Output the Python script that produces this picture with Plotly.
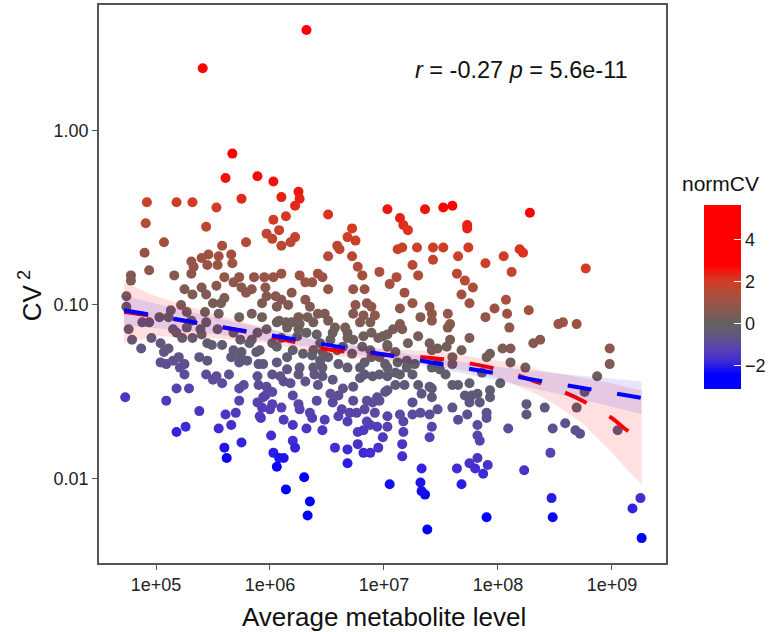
import plotly.graph_objects as go

# ---------------- data (log10 units) ----------------
# top / outlying points
lx_a = [6.32, 5.41, 5.67, 5.61, 5.89, 6.03, 6.10, 6.25, 6.26, 5.75, 4.92, 5.18, 5.32, 5.53]
ly_a = [0.58, 0.36, -0.13, -0.27, -0.26, -0.29, -0.38, -0.35, -0.39, -0.39, -0.41, -0.41, -0.41, -0.44]
c_a = [5.4, 4.4, 3.0, 2.6, 2.7, 2.6, 2.4, 2.5, 2.4, 2.3, 1.9, 2.0, 2.1, 2.0]

# upper-left cloud
lx_b = [4.91, 5.44, 6.03, 6.14, 5.97, 6.08, 6.02, 6.10, 5.79, 5.07, 4.90, 5.58, 5.46, 5.40, 5.55, 5.66, 5.67,
        5.54, 5.31, 5.33, 5.45, 5.60, 5.73, 5.86, 5.95, 6.03, 6.10, 4.94, 4.78, 4.78, 5.16, 5.31, 5.53, 5.40,
        5.25, 5.32, 5.44, 5.60, 5.57, 5.75, 5.79, 5.84, 5.96, 5.97, 6.05, 6.10, 5.93, 6.06, 4.74, 4.74, 5.22,
        5.13, 5.11, 5.03, 4.88, 4.94, 5.31, 5.44, 5.55, 5.73, 5.84, 5.93, 6.08, 6.14, 5.68, 5.27, 5.50, 5.43]
ly_b = [-0.53, -0.55, -0.51, -0.49, -0.59, -0.57, -0.62, -0.66, -0.64, -0.64, -0.70, -0.66, -0.71, -0.73, -0.72,
        -0.71, -0.76, -0.77, -0.75, -0.78, -0.77, -0.84, -0.84, -0.84, -0.84, -0.84, -0.82, -0.80, -0.83, -0.86,
        -0.83, -0.82, -0.89, -0.90, -0.91, -0.94, -0.94, -0.96, -0.99, -0.90, -0.93, -0.91, -0.90, -0.95, -0.95,
        -0.97, -0.99, -1.01, -0.95, -1.01, -1.00, -1.03, -1.07, -1.07, -1.10, -1.10, -1.09, -1.10, -1.05, -1.07,
        -1.05, -1.07, -1.09, -1.10, -0.87, -1.04, -0.99, -1.04]
c_b = [1.5, 1.7, 2.0, 2.1, 1.7, 1.8, 1.7, 1.6, 1.5, 1.3, 1.0, 1.4, 1.2, 1.1, 1.2, 1.3, 1.1, 1.0, 1.0, 0.9, 1.0,
       0.9, 0.9, 0.9, 1.0, 1.0, 1.1, 0.8, 0.6, 0.5, 0.7, 0.8, 0.7, 0.6, 0.5, 0.5, 0.5, 0.5, 0.4, 0.7, 0.7, 0.7,
       0.8, 0.6, 0.7, 0.6, 0.5, 0.5, 0.2, 0.1, 0.3, 0.1, 0.0, 0.0, -0.2, -0.2, 0.0, 0.0, 0.2, 0.2, 0.3, 0.3, 0.3,
       0.3, 0.8, 0.2, 0.4, 0.2]

# upper-middle cloud
lx_c = [6.22, 6.51, 7.03, 7.14, 7.17, 7.21, 7.36, 7.52, 7.60, 7.73, 7.73, 6.72, 6.68, 6.75, 6.59, 6.61, 6.51,
        6.72, 6.77, 6.81, 6.96, 7.12, 7.16, 7.29, 7.43, 7.52, 7.74, 7.65, 7.43, 7.25, 7.30, 7.11, 7.05, 7.18,
        7.25, 7.14, 7.32, 7.14, 6.83, 6.85, 6.75, 6.73, 6.82, 6.89, 6.92, 6.88, 6.79, 6.73, 6.51, 6.42, 6.26,
        6.31, 6.37, 6.46, 6.19, 6.16, 6.31, 6.35, 6.42, 6.48, 6.33, 6.25, 6.19, 6.57, 6.66, 7.64, 7.71, 7.78,
        7.68, 7.75, 7.40, 7.42, 7.56, 7.58, 7.42, 6.22, 6.18]
ly_c = [-0.43, -0.48, -0.45, -0.50, -0.54, -0.57, -0.45, -0.44, -0.43, -0.54, -0.56, -0.56, -0.61, -0.63, -0.66,
        -0.68, -0.72, -0.72, -0.78, -0.83, -0.81, -0.68, -0.67, -0.67, -0.67, -0.67, -0.67, -0.72, -0.74, -0.77,
        -0.83, -0.84, -0.88, -0.93, -0.99, -1.02, -1.07, -1.11, -0.91, -0.99, -1.00, -1.05, -1.06, -1.01, -1.06,
        -1.10, -1.10, -0.91, -0.91, -0.82, -0.83, -0.87, -0.87, -0.84, -0.93, -1.00, -0.97, -1.01, -1.05, -1.05,
        -1.07, -1.07, -1.10, -1.13, -1.13, -0.82, -0.86, -0.90, -0.94, -0.99, -1.01, -1.05, -1.05, -1.11, -1.09,
        -0.61, -0.64]
c_c = [2.3, 2.2, 2.5, 2.4, 2.3, 2.2, 2.6, 2.7, 2.8, 2.5, 2.4, 2.1, 1.9, 1.9, 1.7, 1.7, 1.5, 1.6, 1.4, 1.3, 1.4,
       1.8, 1.9, 1.9, 2.0, 2.0, 2.1, 1.9, 1.8, 1.6, 1.4, 1.4, 1.2, 1.1, 1.0, 0.8, 0.7, 0.6, 1.0, 0.8, 0.8, 0.6,
       0.6, 0.8, 0.7, 0.5, 0.5, 1.0, 0.9, 1.2, 1.1, 1.0, 1.0, 1.1, 0.8, 0.6, 0.7, 0.6, 0.5, 0.5, 0.4, 0.4, 0.3,
       0.3, 0.4, 1.6, 1.5, 1.4, 1.2, 1.1, 0.9, 0.9, 0.9, 0.7, 0.7, 1.8, 1.7]

# upper-right cloud
lx_d = [8.28, 8.19, 8.22, 8.05, 7.89, 8.12, 8.77, 8.07, 7.97, 7.89, 8.08, 8.27, 8.53, 8.57, 8.69, 8.10]
ly_d = [-0.47, -0.68, -0.70, -0.72, -0.76, -0.81, -0.79, -0.97, -1.02, -1.07, -1.05, -1.03, -1.11, -1.10, -1.11,
        -1.13]
c_d = [2.9, 2.2, 2.2, 2.0, 1.9, 1.8, 2.1, 1.3, 1.1, 0.9, 1.1, 1.2, 1.0, 1.1, 1.1, 0.8]

# lower-left cloud
lx_e = [4.76, 4.79, 4.87, 4.96, 5.04, 5.07, 5.11, 5.04, 5.09, 5.20, 5.25, 5.25, 5.18, 5.29, 5.38, 5.44, 5.53,
        5.58, 5.64, 5.66, 5.73, 5.73, 5.77, 5.73, 5.61, 5.70, 5.66, 5.55, 5.60, 5.62, 5.75, 5.18, 5.26, 4.73,
        5.09, 5.38, 5.49, 5.32, 5.23, 5.40, 5.18, 5.90, 5.96, 6.02, 6.02, 6.10, 5.93, 5.92, 6.01, 6.03, 6.08,
        6.06, 6.12, 6.14, 6.12, 6.12, 5.90, 6.02, 5.88, 5.75, 5.84, 6.02, 6.10, 5.15, 5.21, 5.39, 5.27, 5.15,
        5.54, 5.68, 5.74, 5.82, 5.68, 5.74, 5.80, 5.91, 5.94, 5.89, 5.97, 5.94, 5.89, 6.00, 5.91, 5.50, 5.45,
        5.58, 5.45, 5.97, 5.89, 6.06, 6.06]
ly_e = [-1.14, -1.20, -1.25, -1.19, -1.22, -1.27, -1.25, -1.33, -1.34, -1.30, -1.34, -1.40, -1.48, -1.48, -1.61,
        -1.40, -1.41, -1.45, -1.40, -1.30, -1.33, -1.48, -1.46, -1.55, -1.63, -1.62, -1.69, -1.71, -1.82, -1.88,
        -1.79, -1.73, -1.70, -1.53, -1.55, -1.30, -1.23, -1.19, -1.19, -1.17, -1.16, -1.46, -1.52, -1.50, -1.57,
        -1.59, -1.59, -1.65, -1.75, -1.85, -1.88, -1.93, -1.88, -2.06, -1.66, -1.44, -1.34, -1.40, -1.27, -1.27,
        -1.20, -1.22, -1.19, -1.32, -1.36, -1.14, -1.13, -1.14, -1.14, -1.16, -1.20, -1.22, -1.26, -1.29, -1.32,
        -1.26, -1.34, -1.41, -1.47, -1.53, -1.56, -1.60, -1.64, -1.43, -1.32, -1.23, -1.22, -1.14, -1.16, -1.24,
        -1.10]
c_e = [-0.3, -0.5, -0.6, -0.4, -0.5, -0.6, -0.5, -0.8, -0.8, -0.7, -0.8, -0.9, -1.2, -1.2, -1.5, -0.9, -0.9,
       -1.0, -0.8, -0.5, -0.6, -1.0, -0.9, -1.2, -1.5, -1.4, -1.7, -1.8, -2.1, -2.3, -1.9, -1.9, -1.8, -1.5,
       -1.4, -0.6, -0.3, -0.3, -0.3, -0.2, -0.2, -0.9, -1.0, -1.0, -1.2, -1.2, -1.3, -1.5, -1.7, -2.0, -2.1,
       -2.3, -2.1, -2.6, -1.4, -0.8, -0.6, -0.7, -0.3, -0.4, -0.1, -0.1, 0.0, -0.7, -0.8, -0.1, -0.1, -0.2,
       -0.1, -0.1, -0.2, -0.2, -0.4, -0.4, -0.5, -0.3, -0.5, -0.8, -0.9, -1.1, -1.2, -1.3, -1.4, -0.9, -0.6,
       -0.3, -0.3, 0.1, 0.0, -0.2, 0.2]

# lower-middle cloud (part 1)
lx_f = [6.20, 6.22, 6.30, 6.35, 6.33, 6.20, 6.26, 6.35, 6.32, 6.41, 6.48, 6.46, 6.57, 6.68, 6.68, 6.77, 6.82,
        6.88, 6.95, 6.99, 7.03, 7.03, 6.94, 6.82, 6.77, 6.70, 6.63, 6.55, 6.73, 6.85, 6.94, 7.03, 7.05, 7.03,
        6.90, 6.79, 6.73, 6.64, 6.55, 6.53, 6.46, 6.38, 6.44, 6.26, 6.18, 6.15, 6.09, 6.06, 6.15, 6.20, 6.29,
        6.38, 6.44, 6.53, 6.59, 6.64, 6.73, 6.82, 6.88, 6.96, 7.03, 6.99, 7.08, 6.51, 6.38, 6.26, 6.15, 6.24,
        6.32, 6.41, 6.55, 6.68]
ly_f = [-1.78, -1.82, -1.99, -2.13, -2.21, -1.69, -1.60, -1.62, -1.71, -1.55, -1.66, -1.72, -1.82, -1.91, -1.83,
        -1.80, -1.85, -1.85, -1.82, -1.76, -1.70, -1.64, -1.70, -1.72, -1.73, -1.62, -1.60, -1.56, -1.55, -1.55,
        -1.53, -1.49, -2.03, -1.41, -1.41, -1.42, -1.47, -1.48, -1.43, -1.51, -1.41, -1.36, -1.32, -1.36, -1.45,
        -1.37, -1.41, -1.33, -1.30, -1.26, -1.28, -1.26, -1.22, -1.20, -1.26, -1.24, -1.20, -1.18, -1.26, -1.30,
        -1.24, -1.18, -1.14, -1.09, -1.10, -1.11, -1.13, -1.18, -1.16, -1.17, -1.16, -1.16]
c_f = [-1.7, -1.9, -2.4, -2.8, -3.0, -1.5, -1.2, -1.2, -1.5, -1.0, -1.3, -1.5, -1.7, -2.0, -1.8, -1.6, -1.8,
       -1.7, -1.6, -1.4, -1.2, -1.1, -1.3, -1.4, -1.4, -1.1, -1.1, -1.0, -0.9, -0.8, -0.8, -0.6, -2.2, -0.4,
       -0.4, -0.5, -0.7, -0.7, -0.6, -0.8, -0.6, -0.4, -0.3, -0.5, -0.8, -0.6, -0.7, -0.5, -0.3, -0.2, -0.2,
       -0.1, 0.0, 0.1, -0.1, 0.0, 0.2, 0.2, 0.0, -0.1, 0.1, 0.3, 0.4, 0.4, 0.3, 0.3, 0.2, 0.0, 0.1, 0.1, 0.2, 0.3]

# lower-middle cloud (part 2)
lx_g = [6.20, 6.25, 6.37, 6.60, 6.68, 6.76, 6.83, 6.85, 6.90, 6.92, 6.88, 7.17, 7.25, 7.32, 7.17, 7.16, 7.16,
        7.42, 7.40, 7.33, 7.32, 7.36, 7.33, 7.64, 7.68, 7.75, 7.82, 7.47, 7.60, 7.65, 7.71, 7.75, 7.65, 7.42,
        7.33, 7.30, 7.42, 7.25, 7.14, 7.10, 7.01, 6.83, 6.60, 6.42, 6.39, 6.31, 6.25, 6.46, 6.60, 6.68, 6.79,
        6.83, 7.01, 7.10, 7.20, 7.27, 7.42, 7.49, 7.60, 7.77, 7.73, 7.82, 7.82, 6.25, 6.68, 6.89, 6.95, 7.21,
        7.40, 7.42, 7.47, 7.60, 7.56, 7.75, 7.68, 6.37, 6.46, 6.51, 6.72, 6.81, 6.89, 7.10, 7.12, 7.20]
ly_g = [-1.52, -1.57, -1.65, -1.64, -1.67, -1.62, -1.60, -1.67, -1.56, -1.62, -1.69, -1.67, -1.63, -1.62, -1.73,
        -1.80, -1.87, -1.70, -1.76, -1.94, -2.02, -2.09, -2.07, -1.94, -2.03, -1.91, -1.88, -1.60, -1.59, -1.66,
        -1.52, -1.45, -1.46, -1.53, -1.51, -1.46, -1.48, -1.40, -1.40, -1.46, -1.50, -1.40, -1.52, -1.46, -1.40,
        -1.44, -1.40, -1.36, -1.34, -1.36, -1.36, -1.33, -1.34, -1.39, -1.36, -1.34, -1.36, -1.37, -1.34, -1.52,
        -1.63, -1.69, -1.75, -1.14, -1.19, -1.16, -1.19, -1.22, -1.22, -1.26, -1.25, -1.30, -1.13, -1.19, -1.26,
        -1.29, -1.27, -1.30, -1.28, -1.24, -1.30, -1.27, -1.33, -1.32]
c_g = [-1.0, -1.1, -1.3, -1.2, -1.3, -1.1, -1.0, -1.2, -0.9, -1.0, -1.3, -1.1, -1.0, -0.9, -1.3, -1.5, -1.7,
       -1.1, -1.3, -1.9, -2.1, -2.3, -2.2, -1.7, -2.0, -1.6, -1.5, -0.8, -0.7, -0.9, -0.5, -0.2, -0.3, -0.6,
       -0.6, -0.4, -0.4, -0.3, -0.3, -0.5, -0.6, -0.4, -0.8, -0.7, -0.6, -0.7, -0.6, -0.4, -0.3, -0.3, -0.3,
       -0.2, -0.2, -0.3, -0.2, -0.1, -0.1, -0.1, 0.0, -0.4, -0.8, -0.9, -1.1, 0.2, 0.2, 0.3, 0.3, 0.3, 0.3,
       0.2, 0.3, 0.2, 0.6, 0.5, 0.3, -0.2, -0.1, -0.2, -0.1, 0.1, -0.1, 0.1, -0.1, 0.0]

# lower-right cloud
lx_h = [7.03, 7.03, 7.30, 7.55, 7.58, 7.47, 7.54, 7.40, 7.03, 6.96, 7.18, 6.96, 7.14, 7.25, 7.40, 7.75, 7.84,
        7.93, 7.93, 7.90, 7.90, 8.09, 7.84, 7.80, 7.87, 7.91, 7.38, 7.90, 8.23, 8.25, 8.25, 8.24, 8.11, 8.11,
        7.90, 7.93, 7.60, 8.31, 8.37, 8.41, 8.48, 8.46, 8.47, 8.48, 8.59, 8.68, 8.72, 8.69, 8.76, 8.87, 8.98,
        8.98, 9.05, 9.25, 9.18, 9.26, 8.04, 7.86, 8.02, 7.82, 7.16]
ly_h = [-1.17, -1.23, -1.18, -1.24, -1.20, -1.33, -1.40, -1.47, -1.36, -1.40, -1.46, -1.55, -1.63, -1.56, -1.63,
        -1.56, -1.56, -1.49, -1.53, -1.62, -1.65, -1.71, -1.78, -1.94, -1.97, -1.92, -2.29, -2.22, -1.95, -1.57,
        -1.63, -1.36, -1.33, -1.25, -1.30, -1.28, -1.46, -1.22, -1.20, -1.59, -1.71, -1.85, -2.11, -2.22, -1.68,
        -1.72, -1.74, -1.59, -1.50, -1.41, -1.25, -1.34, -1.72, -2.11, -2.17, -2.34, -1.25, -1.39, -1.45, -1.51,
        -1.14]
c_h = [0.3, 0.2, 0.4, 0.3, 0.4, 0.0, -0.2, -0.4, -0.2, -0.4, -0.5, -0.8, -1.0, -0.8, -0.9, -0.6, -0.6, -0.3,
       -0.4, -0.7, -0.8, -0.9, -1.2, -1.7, -1.8, -1.6, -2.9, -2.5, -1.6, -0.5, -0.6, 0.2, 0.2, 0.5, 0.2, 0.3,
       -0.3, 0.6, 0.7, -0.5, -0.8, -1.2, -2.0, -2.3, -0.7, -0.7, -0.8, -0.3, -0.1, 0.2, 0.8, 0.5, -0.6, -1.7,
       -1.9, -2.4, 0.5, 0.0, -0.2, -0.4, 0.5]

# fitted curves (log10 units)
lm_lx = [4.72, 5.0, 5.5, 6.0, 6.5, 7.0, 7.5, 8.0, 8.5, 9.0, 9.26]
lm_fit = [-1.030, -1.063, -1.118, -1.174, -1.229, -1.284, -1.339, -1.395, -1.450, -1.505, -1.534]
lm_hi = [-0.945, -0.993, -1.069, -1.139, -1.202, -1.259, -1.310, -1.355, -1.393, -1.425, -1.440]
lm_lo = [-1.115, -1.133, -1.167, -1.209, -1.256, -1.309, -1.368, -1.435, -1.507, -1.585, -1.628]

lo_lx = [4.72, 5.0, 5.5, 6.0, 6.5, 7.0, 7.5, 8.0, 8.33, 8.5, 8.74, 9.0, 9.11, 9.2, 9.26]
lo_fit = [-1.04, -1.065, -1.12, -1.18, -1.255, -1.285, -1.31, -1.37, -1.44, -1.48, -1.55, -1.65, -1.71, -1.75, -1.78]
lo_hi = [-0.87, -0.95, -1.05, -1.14, -1.22, -1.25, -1.27, -1.32, -1.37, -1.39, -1.42, -1.45, -1.47, -1.48, -1.49]
lo_lo = [-1.22, -1.18, -1.19, -1.22, -1.29, -1.32, -1.35, -1.42, -1.51, -1.57, -1.68, -1.85, -1.93, -1.99, -2.03]

x_tick_vals = [1e5, 1e6, 1e7, 1e8, 1e9]
x_tick_text = ["1e+05", "1e+06", "1e+07", "1e+08", "1e+09"]
y_tick_vals = [0.01, 0.1, 1.0]
y_tick_text = ["0.01", "0.10", "1.00"]
cb_tick_vals = [-2, 0, 2, 4]

# ---------------- assemble ----------------
lx = lx_a + lx_b + lx_c + lx_d + lx_e + lx_f + lx_g + lx_h
ly = ly_a + ly_b + ly_c + ly_d + ly_e + ly_f + ly_g + ly_h
normcv = c_a + c_b + c_c + c_d + c_e + c_f + c_g + c_h
n = min(len(lx), len(ly), len(normcv))
level = [10 ** v for v in lx[:n]]
cv2 = [10 ** v for v in ly[:n]]
normcv = normcv[:n]

def pw(vals):
    return [10 ** v for v in vals]

FONT = "Liberation Sans, Arial, sans-serif"
cmin, cmax = -3.1, 5.67

colorscale = [
    [0.000, "rgb(0,0,255)"],
    [0.080, "rgb(0,0,255)"],
    [0.148, "rgb(62,42,214)"],
    [0.217, "rgb(88,66,178)"],
    [0.285, "rgb(96,86,130)"],
    [0.353, "rgb(98,98,98)"],
    [0.433, "rgb(138,88,78)"],
    [0.513, "rgb(172,78,58)"],
    [0.593, "rgb(214,58,36)"],
    [0.673, "rgb(255,0,0)"],
    [1.000, "rgb(255,0,0)"],
]

fig = go.Figure()

fig.add_trace(go.Scatter(
    x=level, y=cv2, mode="markers",
    marker=dict(
        size=10, color=normcv, colorscale=colorscale, cmin=cmin, cmax=cmax,
        line=dict(width=0),
        showscale=True,
        colorbar=dict(
            x=1.067, xanchor="left", xref="paper",
            y=0.477, yanchor="middle",
            thickness=37, len=184, lenmode="pixels",
            outlinewidth=0, xpad=0, ypad=0,
            tickvals=cb_tick_vals,
            ticks="inside", ticklen=7, tickcolor="white", tickwidth=1,
            tickfont=dict(family=FONT, size=18, color="#1a1a1a"),
        ),
    ),
    showlegend=False, hoverinfo="skip",
))

def ribbon(xs, hi, lo, color):
    return go.Scatter(
        x=pw(xs) + pw(xs)[::-1], y=pw(hi) + pw(lo)[::-1],
        fill="toself", fillcolor=color, line=dict(width=0),
        mode="lines", showlegend=False, hoverinfo="skip",
    )

fig.add_trace(ribbon(lo_lx, lo_hi, lo_lo, "rgba(255,0,0,0.12)"))
fig.add_trace(go.Scatter(x=pw(lo_lx), y=pw(lo_fit), mode="lines",
                         line=dict(color="#FF0000", width=4, dash="24px,26px", shape="spline"),
                         showlegend=False, hoverinfo="skip"))
fig.add_trace(ribbon(lm_lx, lm_hi, lm_lo, "rgba(0,0,255,0.10)"))
fig.add_trace(go.Scatter(x=pw(lm_lx), y=pw(lm_fit), mode="lines",
                         line=dict(color="#0000FF", width=4, dash="24px,26px"),
                         showlegend=False, hoverinfo="skip"))

axis_common = dict(
    showgrid=False, zeroline=False,
    showline=True, mirror=True, linecolor="#555555", linewidth=1.5,
    ticks="outside", ticklen=5, tickcolor="#555555", tickwidth=1,
    tickfont=dict(family=FONT, size=18, color="#222222"),
)

fig.update_layout(
    width=771, height=632,
    margin=dict(l=99, r=105, t=5, b=69, autoexpand=False),
    paper_bgcolor="white", plot_bgcolor="white",
    font=dict(family=FONT),
    xaxis=dict(type="log", range=[4.5, 9.474], tickvals=x_tick_vals, ticktext=x_tick_text, **axis_common),
    yaxis=dict(type="log", range=[-2.483, 0.724], tickvals=y_tick_vals, ticktext=y_tick_text, **axis_common),
    annotations=[
        dict(text="<i>r</i> = -0.27 <i>p</i> = 5.6e-11", x=0.746, y=0.8835, xref="paper", yref="paper",
             showarrow=False, font=dict(family=FONT, size=23.5, color="#111111"),
             xanchor="center", yanchor="middle"),
        dict(text="Average metabolite level", x=0.503, y=-0.0968, xref="paper", yref="paper",
             showarrow=False, font=dict(family=FONT, size=26, color="#111111"),
             xanchor="center", yanchor="middle"),
        dict(text="CV<sup> 2</sup>", x=-0.1217, y=0.48, xref="paper", yref="paper", textangle=-90,
             showarrow=False, font=dict(family=FONT, size=26, color="#111111"),
             xanchor="center", yanchor="middle"),
        dict(text="normCV", x=1.097, y=0.681, xref="paper", yref="paper",
             showarrow=False, font=dict(family=FONT, size=21, color="#111111"),
             xanchor="center", yanchor="middle"),
    ],
)

fig.write_html("out.html")
